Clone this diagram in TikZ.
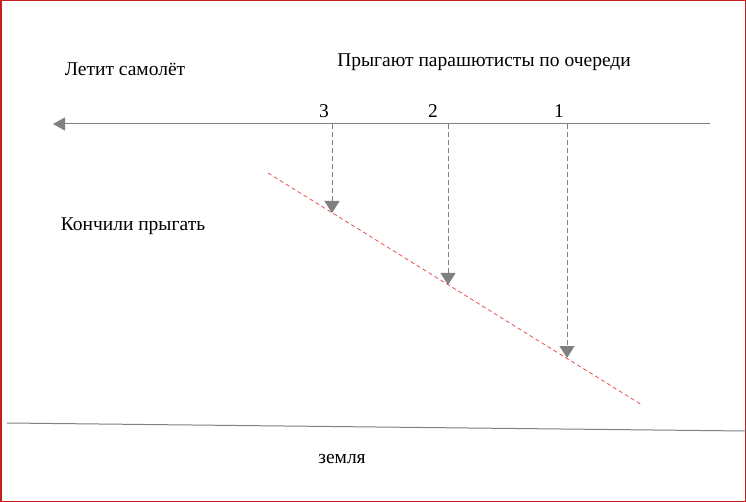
\documentclass[tikz,border=0pt]{standalone}
\usepackage{fontspec}
\setmainfont{Liberation Serif}
\usetikzlibrary{arrows.meta}
\definecolor{linegray}{RGB}{128,128,128}
\definecolor{framered}{RGB}{200,30,30}
\definecolor{pathred}{RGB}{235,80,80}
\tikzset{
  caption/.style={font=\fontsize{19.5}{22}\selectfont, inner sep=0pt},
  flight/.style={linegray, line width=1pt, -{Triangle[length=12pt, width=13pt]}},
  jump/.style={linegray, line width=0.8pt, dash pattern=on 5pt off 3pt, -{Triangle[length=12pt, width=15pt]}},
}
\begin{document}
\begin{tikzpicture}[x=1pt, y=-1pt]
                \useasboundingbox (0,0) rectangle (746,502);
                \draw [framered, line width=1.5pt] (0.75,0.75) rectangle (745.25,501.25);
                \node [caption] (plane) at (125,69) {Летит самолёт};
                \node [caption] (jumpers) at (484,62) {Прыгают парашютисты по очереди};
                \node [caption] (done) at (133,226) {Кончили прыгать};
                \node [caption] (ground label) at (342,459) {земля};
                \coordinate (flight start) at (710,124);
                \coordinate (flight end) at (53,124);
                \draw [flight] (flight start) -- (flight end);
                \foreach \n/\x/\y/\lx in {3/332/213/324, 2/448/285/433, 1/567/358/559}{
                    \node [caption] (num\n) at (\lx,111) {\n};
                    \coordinate (top\n) at (\x,124);
                    \coordinate (land\n) at (\x,\y);
                    \draw [jump] (top\n) -- (land\n);
                }
                \coordinate (drift start) at (268,173);
                \coordinate (drift end) at (642,405);
                \draw [pathred, line width=0.8pt, dash pattern=on 4pt off 3pt] (drift start) -- (drift end);
                \coordinate (ground left) at (7,423);
                \coordinate (ground right) at (746,431);
                \draw [linegray, line width=1pt] (ground left) -- (ground right);
            \end{tikzpicture}
\end{document}
